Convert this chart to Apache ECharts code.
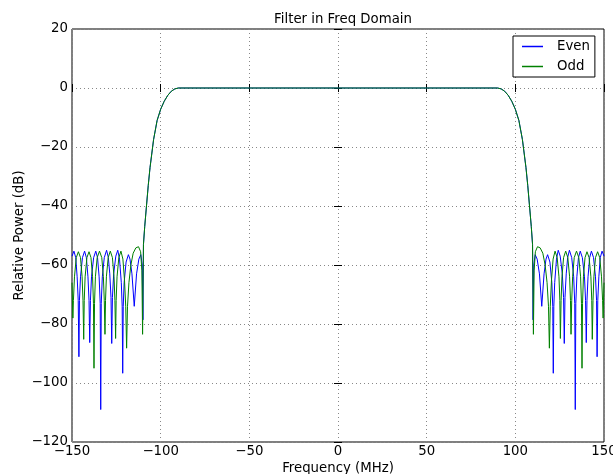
<!DOCTYPE html>
<html>
<head>
<meta charset="utf-8">
<script src="https://cdn.jsdelivr.net/npm/echarts@6/dist/echarts.min.js"></script>
<style>
  html, body { margin: 0; padding: 0; background: #fff; }
  #chart { width: 613px; height: 474px; }
</style>
</head>
<body>
<div id="chart"></div>
<script>
// values: [frequency MHz, relative power dB]
var evenLeft = [[-150,-57],[-148.9,-55.3],[-147.9,-57.5],[-147.1,-64],[-146.5,-72],[-146.1,-91.1],[-145.8,-72],[-145.2,-64],[-144.1,-57.5],[-142.9,-55.3],[-141.9,-57.5],[-141.0,-64],[-140.4,-72],[-140.0,-86.3],[-139.6,-72],[-139.0,-64],[-137.8,-57.5],[-136.6,-55.3],[-135.6,-57.5],[-134.7,-64],[-134.1,-73],[-133.8,-109],[-133.5,-73],[-132.9,-64],[-131.8,-57.5],[-130.5,-55],[-129.5,-57.5],[-128.7,-63],[-128.0,-71],[-127.6,-86.6],[-127.2,-71],[-126.5,-63],[-125.3,-57],[-124.2,-55],[-123.2,-58],[-122.2,-66],[-121.7,-74],[-121.4,-96.7],[-121.1,-74],[-120.6,-66],[-119.5,-59],[-118.2,-56.5],[-117.3,-58],[-116.2,-63],[-114.9,-74],[-113.6,-63],[-112.3,-58],[-111.2,-56.5],[-110.4,-60],[-110.0,-78.6],[-109.7,-53],[-109,-47],[-108,-40],[-107,-33],[-106,-27],[-104,-17.5],[-102,-11],[-100,-7.2],[-98,-4.5],[-96,-2.5],[-94,-1.1],[-92,-0.3],[-90,0]];
var evenRight = [[90,0],[92,-0.3],[94,-1.1],[96,-2.5],[98,-4.5],[100,-7.2],[102,-11],[104,-17.5],[106,-27],[107,-33],[108,-40],[109,-47],[109.7,-53],[110.0,-78.6],[110.4,-60],[111.2,-56.5],[112.3,-58],[113.6,-63],[114.9,-74],[116.2,-63],[117.3,-58],[118.2,-56.5],[119.5,-59],[120.6,-66],[121.1,-74],[121.4,-96.7],[121.7,-74],[122.2,-66],[123.2,-58],[124.2,-55],[125.3,-57],[126.5,-63],[127.2,-71],[127.6,-86.6],[128.0,-71],[128.7,-63],[129.5,-57.5],[130.5,-55],[131.8,-57.5],[132.9,-64],[133.5,-73],[133.8,-109],[134.1,-73],[134.7,-64],[135.6,-57.5],[136.6,-55.3],[137.8,-57.5],[139.0,-64],[139.6,-72],[140.0,-86.3],[140.4,-72],[141.0,-64],[141.9,-57.5],[142.9,-55.3],[144.1,-57.5],[145.2,-64],[145.8,-72],[146.1,-91.1],[146.5,-72],[147.1,-64],[147.9,-57.5],[148.9,-55.3],[150,-57]];

var oddLeft = [[-150,-66],[-149.5,-78],[-149.2,-72],[-148.6,-64],[-147.6,-57.5],[-146.4,-55.5],[-145.2,-57.5],[-144.3,-64],[-143.8,-72],[-143.4,-85.2],[-143.1,-72],[-142.6,-64],[-141.6,-57.5],[-140.4,-55.5],[-139.3,-57.5],[-138.4,-64],[-137.9,-73],[-137.6,-95],[-137.3,-73],[-136.8,-64],[-135.8,-57.5],[-134.5,-55.3],[-133.2,-57.5],[-132.3,-64],[-131.8,-72],[-131.4,-83.5],[-131.1,-72],[-130.6,-64],[-129.6,-57.5],[-128.4,-55.3],[-127.2,-57.5],[-126.3,-64],[-125.8,-72],[-125.4,-84.9],[-125.1,-72],[-124.6,-64],[-123.6,-57.5],[-122.4,-55.3],[-121.3,-58],[-120.4,-65],[-119.7,-74],[-119.2,-88.2],[-118.7,-74],[-117.9,-66],[-116.8,-60],[-115.5,-56],[-114,-54.2],[-112.5,-53.8],[-111.3,-55.5],[-110.6,-62],[-110.2,-83.5],[-109.7,-53],[-109,-47],[-108,-40],[-107,-33],[-106,-27],[-104,-17.5],[-102,-11],[-100,-7.2],[-98,-4.5],[-96,-2.5],[-94,-1.1],[-92,-0.3],[-90,0]];
var oddRight = [[90,0],[92,-0.3],[94,-1.1],[96,-2.5],[98,-4.5],[100,-7.2],[102,-11],[104,-17.5],[106,-27],[107,-33],[108,-40],[109,-47],[109.7,-53],[110.2,-83.5],[110.6,-62],[111.3,-55.5],[112.5,-53.8],[114,-54.2],[115.5,-56],[116.8,-60],[117.9,-66],[118.7,-74],[119.2,-88.2],[119.7,-74],[120.4,-65],[121.3,-58],[122.4,-55.3],[123.6,-57.5],[124.6,-64],[125.1,-72],[125.4,-84.9],[125.8,-72],[126.3,-64],[127.2,-57.5],[128.4,-55.3],[129.6,-57.5],[130.6,-64],[131.1,-72],[131.4,-83.5],[131.8,-72],[132.3,-64],[133.2,-57.5],[134.5,-55.3],[135.8,-57.5],[136.8,-64],[137.3,-73],[137.6,-95],[137.9,-73],[138.4,-64],[139.3,-57.5],[140.4,-55.5],[141.6,-57.5],[142.6,-64],[143.1,-72],[143.4,-85.2],[143.8,-72],[144.3,-64],[145.2,-57.5],[146.4,-55.5],[147.6,-57.5],[148.6,-64],[149.2,-72],[149.5,-78],[150,-66]];

var seriesNames = ['Even', 'Odd'];
var seriesColors = ['#0000ff', '#008000'];

var font = 'DejaVu Sans';
var fs = 13.3;
function minus(v) { return String(v).replace('-', '\u2212'); }

var chart = echarts.init(document.getElementById('chart'));

function plainAxis(pos, isX, withLabels) {
  return {
    type: 'value',
    position: pos,
    min: isX ? -150 : -120,
    max: isX ? 150 : 20,
    interval: isX ? 50 : 20,
    axisLine: { show: false },
    axisTick: { show: true, inside: true, length: 4, lineStyle: { color: '#000', width: 1 } },
    axisLabel: { show: withLabels, color: '#000', fontFamily: font, fontSize: fs, margin: isX ? 3 : 4, formatter: minus },
    splitLine: { show: withLabels, lineStyle: { color: '#888', type: [1, 3], width: 1 } }
  };
}

var xBottom = plainAxis('bottom', true, true);
xBottom.name = 'Frequency (MHz)';
xBottom.nameLocation = 'middle';
xBottom.nameGap = 20;
xBottom.nameMoveOverlap = false;
xBottom.nameTextStyle = { color: '#000', fontFamily: font, fontSize: fs };
var yLeft = plainAxis('left', false, true);
yLeft.name = 'Relative Power (dB)';
yLeft.nameLocation = 'middle';
yLeft.nameGap = 46;
yLeft.nameMoveOverlap = false;
yLeft.nameTextStyle = { color: '#000', fontFamily: font, fontSize: fs };

chart.setOption({
  animation: false,
  backgroundColor: '#fff',
  title: {
    text: 'Filter in Freq Domain',
    left: 338,
    top: 8,
    textAlign: 'center',
    textStyle: { color: '#000', fontFamily: font, fontSize: fs, fontWeight: 'normal' }
  },
  legend: {
    orient: 'vertical',
    left: 513,
    top: 36,
    data: seriesNames,
    icon: 'rect',
    backgroundColor: '#fff',
    borderColor: '#000',
    borderWidth: 1,
    borderRadius: 0,
    padding: [4, 5, 4, 9],
    itemGap: 7,
    itemWidth: 21,
    itemHeight: 1.5,
    textStyle: { color: '#000', fontFamily: font, fontSize: fs, padding: [0, 0, 0, 9] }
  },
  grid: { left: 72, right: 9, top: 29, bottom: 32, outerBoundsMode: 'none', containLabel: false,
    show: true, borderColor: '#000', borderWidth: 1, backgroundColor: 'transparent' },
  xAxis: [xBottom, plainAxis('top', true, false)],
  yAxis: [yLeft, plainAxis('right', false, false)],
  series: [
    { name: seriesNames[0], type: 'line', data: evenLeft.concat(evenRight), showSymbol: false, symbol: 'none',
      lineStyle: { color: seriesColors[0], width: 1 }, itemStyle: { color: seriesColors[0] } },
    { name: seriesNames[1], type: 'line', data: oddLeft.concat(oddRight), showSymbol: false, symbol: 'none',
      lineStyle: { color: seriesColors[1], width: 1 }, itemStyle: { color: seriesColors[1] } }
  ]
});
</script>
</body>
</html>
